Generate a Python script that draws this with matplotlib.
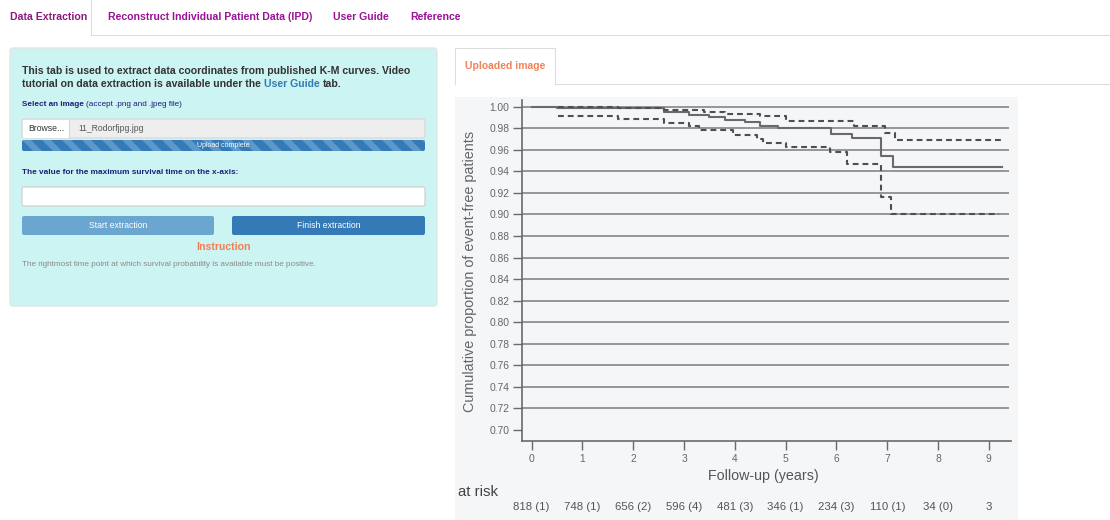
import matplotlib
matplotlib.use("Agg")
import matplotlib.pyplot as plt
from matplotlib.patches import Rectangle, FancyBboxPatch, Polygon

plt.rcParams["font.family"] = ["Liberation Sans", "DejaVu Sans"]

W, H = 1110, 520

# Kaplan-Meier estimate and 95% confidence band (time in years)
km_t = [0.0, 0.5, 2.6, 3.1, 3.5, 3.8, 4.2, 4.5, 4.85, 5.9, 6.3, 6.88, 7.12, 9.25]
km_s = [1.000, 0.999, 0.995, 0.992, 0.990, 0.988, 0.986, 0.982, 0.980, 0.975, 0.971, 0.954, 0.944, 0.944]

upper_t = [0.52, 1.7, 2.6, 3.4, 3.8, 4.5, 5.0, 6.35, 6.95, 7.15, 9.25]
upper_s = [1.000, 0.999, 0.997, 0.995, 0.993, 0.991, 0.987, 0.982, 0.976, 0.969, 0.969]

lower_t = [0.52, 1.7, 2.6, 3.1, 3.3, 3.97, 4.43, 4.55, 5.0, 5.87, 6.2, 6.88, 7.08, 9.2]
lower_s = [0.9915, 0.9885, 0.985, 0.982, 0.978, 0.974, 0.970, 0.966, 0.963, 0.958, 0.947, 0.916, 0.900, 0.900]

years = [0, 1, 2, 3, 4, 5, 6, 7, 8, 9]
at_risk = ["818 (1)", "748 (1)", "656 (2)", "596 (4)", "481 (3)",
           "346 (1)", "234 (3)", "110 (1)", "34 (0)", "3"]
y_ticks = [0.70, 0.72, 0.74, 0.76, 0.78, 0.80, 0.82, 0.84, 0.86,
           0.88, 0.90, 0.92, 0.94, 0.96, 0.98, 1.00]

tab_labels = ["Data Extraction", "Reconstruct Individual Patient Data (IPD)",
              "User Guide", "Reference"]
tab_x = [10, 108, 333, 410]

fig = plt.figure(figsize=(W / 100, H / 100), dpi=100)
fig.patch.set_facecolor("white")

# page layer in pixel units
bg = fig.add_axes([0, 0, 1, 1])
bg.set_xlim(0, W)
bg.set_ylim(H, 0)
bg.axis("off")


def box(x0, y0, x1, y1, fc, ec="none", r=3, lw=1, z=1):
    p = FancyBboxPatch((x0, y0), x1 - x0, y1 - y0,
                       boxstyle=f"round,pad=0,rounding_size={r}",
                       fc=fc, ec=ec, lw=lw, zorder=z)
    bg.add_patch(p)
    return p


def run(parts, x, y, size, va="center"):
    """Draw text segments one after another on a line."""
    prev = None
    for txt, color, weight in parts:
        if prev is None:
            prev = bg.text(x, y, txt, color=color, fontsize=size,
                           fontweight=weight, ha="left", va=va, zorder=5)
        else:
            prev = bg.annotate(txt, xy=(1, 0), xycoords=prev,
                               xytext=(size * 0.28, 0), textcoords="offset points",
                               color=color, fontsize=size, fontweight=weight,
                               ha="left", va="bottom", zorder=5)
    return prev


# top navigation tabs
bg.plot([91, 91], [0, 35], color="#dddddd", lw=0.8)
bg.plot([91, W], [35, 35], color="#dddddd", lw=0.8)
for i, (lab, x) in enumerate(zip(tab_labels, tab_x)):
    bg.text(x, 17, lab, fontsize=7.6, fontweight="bold",
            color="#8a1a7c" if i == 0 else "#9a1296", ha="left", va="center")

# left side panel
box(10, 48, 437, 306, fc="#ccf4f2", ec="#e2e6e6")
bg.text(22, 71, "This tab is used to extract data coordinates from published K-M curves. Video",
        fontsize=7.55, fontweight="bold", color="#333333", va="center")
run([("tutorial on data extraction is available under the", "#333333", "bold"),
     ("User Guide", "#337ab7", "bold"),
     ("tab.", "#333333", "bold")], 22, 84, 7.55)
run([("Select an image", "#1c1f7a", "bold"),
     ("(accept .png and .jpeg file)", "#1c1f7a", "normal")], 22, 105, 5.9)

# file input and progress bar
box(22, 119, 425, 138, fc="#eeeeee", ec="#d6d6d6", r=2, lw=0.8)
bg.add_patch(Rectangle((22.5, 119.5), 46, 18, fc="white", ec="none", zorder=2))
bg.plot([68.5, 68.5], [119.5, 137.5], color="#d6d6d6", lw=0.8, zorder=3)
bg.text(28, 128.5, "Browse...", fontsize=6.2, color="#333333", va="center", zorder=4)
bg.text(78, 128.5, "11_Rodorfjpg.jpg", fontsize=6.2, color="#555555", va="center", zorder=4)

bar = box(22, 140, 425, 151, fc="#337ab7", r=2, z=2)
for sx in range(2, 430, 20):
    st = Polygon([(sx, 140), (sx + 9, 140), (sx + 20, 151), (sx + 11, 151)],
                 closed=True, fc="#5d98cb", ec="none", zorder=3)
    bg.add_patch(st)
    st.set_clip_path(bar)
bg.text(223.5, 145.5, "Upload complete", fontsize=5.0, color="white",
        ha="center", va="center", zorder=4)

bg.text(22, 173, "The value for the maximum survival time on the x-axis:",
        fontsize=5.95, fontweight="bold", color="#1c1f7a", va="center")
box(22, 187, 425, 206, fc="white", ec="#cccccc", r=2, lw=0.8)

box(22, 216, 214, 235, fc="#6ba6d0", r=2)
box(232, 216, 425, 235, fc="#337ab7", r=2)
bg.text(118, 225.5, "Start extraction", fontsize=6.2, color="white", ha="center", va="center", zorder=4)
bg.text(328.5, 225.5, "Finish extraction", fontsize=6.2, color="white", ha="center", va="center", zorder=4)

bg.text(223.5, 247, "Instruction", fontsize=7.6, fontweight="bold", color="#f47d52",
        ha="center", va="center")
bg.text(22, 265, "The rightmost time point at which survival probability is available must be positive.",
        fontsize=5.9, color="#8a8a8a", va="center")

# right side: image tab
bg.plot([455, 455, 555, 555], [84, 48, 48, 84], color="#dddddd", lw=0.8)
bg.plot([555, W], [84, 84], color="#dddddd", lw=0.8)
bg.text(505, 66, "Uploaded image", fontsize=7.5, fontweight="bold", color="#f3825a",
        ha="center", va="center")
bg.add_patch(Rectangle((455, 97), 563, 423, fc="#f5f6f8", ec="none", zorder=0))

# survival plot
ax_l, ax_r, ax_t, ax_b = 522, 1011, 100, 441
ax = fig.add_axes([ax_l / W, (H - ax_b) / H, (ax_r - ax_l) / W, (ax_b - ax_t) / H])
ax.set_facecolor("none")
x0 = -0.19
x1 = x0 + (ax_r - ax_l) / 50.8
ax.set_xlim(x0, x1)
ax.set_ylim(0.6898, 1.0062)

ax.hlines(y_ticks[1:], x0, 9.4, color="#8e8e8e", lw=1.3, zorder=1)

ax.plot(km_t, km_s, drawstyle="steps-post", color="#6a6a6a", lw=1.5, zorder=3)
for tt, ss in [(upper_t, upper_s), (lower_t, lower_s)]:
    ax.plot(tt, ss, drawstyle="steps-post", color="#4f4f4f", lw=1.5,
            dashes=(2.8, 1.9), zorder=3)

for side in ["top", "right"]:
    ax.spines[side].set_visible(False)
for side in ["left", "bottom"]:
    ax.spines[side].set_color("#6a6a6a")
    ax.spines[side].set_linewidth(1.2)

ax.set_yticks(y_ticks)
ax.set_yticklabels([f"{v:.2f}" for v in y_ticks])
ax.set_xticks(years)
ax.tick_params(axis="both", colors="#6a6a6a", labelcolor="#666666",
               labelsize=7.4, width=1.0, length=6.5, pad=2.5)
ax.tick_params(axis="x", pad=3)

for t, n in zip(years, at_risk):
    ax.text(t, -0.194, n, transform=ax.get_xaxis_transform(), fontsize=8.2,
            color="#555555", ha="center", va="center")
ax.text(4.56, -0.104, "Follow-up (years)", transform=ax.get_xaxis_transform(),
        fontsize=10.3, color="#555555", ha="center", va="center")

bg.text(458, 492, "at risk", fontsize=10.8, color="#444444", ha="left", va="center")
bg.text(470, 271, "Cumulative proportion of event-free patients", fontsize=10.4,
        color="#666666", rotation=90, ha="center", va="center")

fig.savefig("out.png", dpi=100)
